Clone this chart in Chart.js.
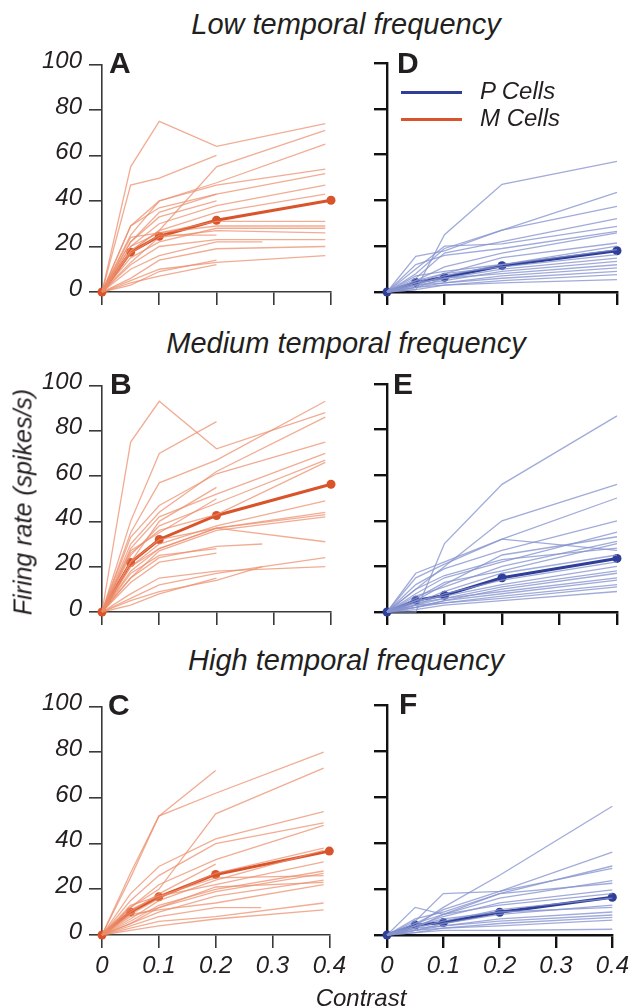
<!DOCTYPE html>
<html><head><meta charset="utf-8">
<script src="https://cdn.jsdelivr.net/npm/chart.js@4.4.1/dist/chart.umd.min.js"></script>
<style>
body{margin:0;background:#fff;width:633px;height:1007px;position:relative;overflow:hidden;font-family:"Liberation Sans",Arial,Helvetica,sans-serif;color:#231f20}
canvas{position:absolute}
.t{position:absolute;white-space:nowrap;line-height:1}
.title{font-style:italic;font-size:29px;left:0;width:692px;text-align:center}
.let{font-weight:bold;font-size:30px;color:#231f20}
.leg{font-style:italic;font-size:24px}
.ln{position:absolute;height:3px;width:61px}
</style>
</head><body>
<canvas id="cA" width="350" height="274" style="left:0;top:43px"></canvas>
<canvas id="cD" width="283" height="274" style="left:350px;top:43px"></canvas>
<canvas id="cB" width="350" height="273" style="left:0;top:364px"></canvas>
<canvas id="cE" width="283" height="273" style="left:350px;top:364px"></canvas>
<canvas id="cC" width="350" height="310" style="left:0;top:685px"></canvas>
<canvas id="cF" width="283" height="310" style="left:350px;top:685px"></canvas>

<div class="t title" style="top:10px">Low temporal frequency</div>
<div class="t title" style="top:329px">Medium temporal frequency</div>
<div class="t title" style="top:646px">High temporal frequency</div>

<div class="t let" style="left:109px;top:48px">A</div>
<div class="t let" style="left:397px;top:48px">D</div>
<div class="t let" style="left:110px;top:369px">B</div>
<div class="t let" style="left:393px;top:369px">E</div>
<div class="t let" style="left:108px;top:690px">C</div>
<div class="t let" style="left:399px;top:689px">F</div>

<div class="ln" style="left:401px;top:91px;background:#2f3f98"></div>
<div class="ln" style="left:401px;top:118px;background:#d9542b"></div>
<div class="t leg" style="left:480px;top:79px">P Cells</div>
<div class="t leg" style="left:480px;top:106px">M Cells</div>

<div class="t" style="left:23px;top:502px;font-style:italic;font-size:25px;transform:translate(-50%,-50%) rotate(-90deg)">Firing rate (spikes/s)</div>
<div class="t" style="left:361px;top:986px;font-style:italic;font-size:24px;transform:translateX(-50%)">Contrast</div>

<script>
// ---- data ----
const CELL_CONTRAST_M = [0, 0.05, 0.1, 0.2, 0.28, 0.39];
const CELL_CONTRAST_P = [0, 0.05, 0.1, 0.2, 0.4];
const MEAN_CONTRAST = [0, 0.05, 0.1, 0.2, 0.4];
const X_TICKS = [0, 0.1, 0.2, 0.3, 0.4];
const Y_TICKS = [0, 20, 40, 60, 80, 100];

// Low temporal frequency, M cells (panel A)
const lowM = [
  [0,55,75,64,null,74],[0,47,50,60,null,null],[0,18,27,55,null,71],[0,25,40,48,null,65],
  [0,29,40,47,null,54],[0,22,35,43,null,52],[0,20,30,38,null,47],[0,18,27,35,null,43],
  [0,29,37,43,null,null],[0,22,33,40,null,null],[0,20,26,31,null,31],[0,24,26,29,null,29],
  [0,15,22,28,null,28],[0,13,24,27,null,26],[0,17,25,25,null,null],[0,12,20,23,null,23],
  [0,10,16,22,22,null],[0,6,14,19,null,20],[0,5,10,13,null,16],[0,4,7,12,null,null],
  [0,3,9,14,null,null]
];
const lowMMean = [0,17.5,24.5,31.5,40.3];

// Low temporal frequency, P cells (panel D)
const lowP = [
  [0,1,25,47,57],[0,8,19,27,43.5],[0,15.6,18,27,37.4],[0,6,17,22,32],[0,10,20,21,28.7],
  [0,12,16,19,26.5],[0,5,11,17,25.8],[0,4,8,15,21.4],[0,7,9,12,20],[0,3,7,12,18.5],
  [0,5,8,11,16.3],[0,4,6,10,14.8],[0,3,5,9,13.4],[0,2,6,8,11.9],[0,3,4,7,10.5],
  [0,2,4,6,9],[0,2,3,5,7.6],[0,1,3,4,5.4]
];
const lowPMean = [0,4.2,6.4,11.5,18];

// Medium temporal frequency, M cells (panel B)
const medM = [
  [0,75,93,72,null,88],[0,40,70,84,null,null],[0,35,57,67,null,93],[0,30,44,62,null,86],
  [0,33,47,61,null,75],[0,28,42,52,null,70],[0,25,38,48,null,67],[0,22,40,55,null,null],
  [0,27,35,50,null,null],[0,20,30,38,null,49],[0,18,28,37,null,44],[0,22,32,37,null,43],
  [0,15,27,36,null,42],[0,20,28,37,null,31],[0,17,25,28,null,null],[0,13,22,26,null,null],
  [0,15,24,29,30,null],[0,6,12,17,null,24],[0,5,9,14,20,null],[0,8,15,18,null,20],
  [0,3,8,15,null,null],[0,26,36,43,null,66]
];
const medMMean = [0,21.8,32,42.6,56.4];

// Medium temporal frequency, P cells (panel E)
const medP = [
  [0,0,30,56,86],[0,10,20,40,56],[0,17,22,32,50],[0,15,21,32,27],[0,12,19,27,40],
  [0,8,15,22,35],[0,5,12,25,33],[0,7,11,20,31],[0,6,13,18,30],[0,4,9,17,25],
  [0,3,8,14,22],[0,5,7,12,20],[0,3,6,11,18],[0,2,5,10,17],[0,4,6,9,15],
  [0,2,5,8,14],[0,3,4,7,12],[0,2,4,6,11],[0,1,3,5,9],[0,10,16,23,28]
];
const medPMean = [0,5.1,7.3,15,23.5];

// High temporal frequency, M cells (panel C)
const highM = [
  [0,27,52,72,null,null],[0,25,52,62,null,80],[0,12,20,53,null,73],[0,18,30,42,null,54],
  [0,15,26,40,null,49],[0,12,22,33,null,48],[0,10,18,31,null,null],[0,9,16,27,null,38],
  [0,7,15,24,null,37],[0,11,17,22,null,32],[0,6,13,20,null,28],[0,8,12,19,null,27],
  [0,5,10,17,null,24],[0,9,11,14,null,22],[0,4,8,12,12,null],[0,3,6,8,null,14],
  [0,2,4,7,null,11],[0,13,17,25,null,26],[0,5,12,21,null,23]
];
const highMMean = [0,10.1,16.7,26.5,36.7];

// High temporal frequency, P cells (panel F)
const highP = [
  [0,4,12,26,56],[0,6,18,19,36],[0,12,9,18,30],[0,5,11,19,29],[0,3,9,16,23.6],
  [0,7,10,18,22.5],[0,4,8,14,19.6],[0,5,9,13,18],[0,3,6,11,16],[0,2,5,9,13],
  [0,3,4,7,10],[0,2,4,6,8.7],[0,1,3,5,7.7],[0,2,3,4,6.5],[0,1,2,2,2.5],[0,4,7,10,12]
];
const highPMean = [0,4.3,5.4,9.9,16.4];

// ---- styles ----
const ORANGE_LIGHT = 'rgba(236,140,105,0.72)';
const ORANGE_DARK = '#d9542b';
const BLUE_LIGHT = 'rgba(135,147,206,0.78)';
const BLUE_DARK = '#2f3f98';
const FONT = {family: '"Liberation Sans", Arial, Helvetica, sans-serif', size: 24, style: 'italic'};

function pts(xs, ys) {
  return xs.map((x, i) => ({x: x, y: ys[i]})).filter(p => p.y !== null && p.y !== undefined);
}

function panel(id, cells, cellX, mean, light, dark, o) {
  const datasets = cells.map(c => ({
    data: pts(cellX, c), borderColor: light, borderWidth: 1.3,
    pointRadius: 0, clip: false, tension: 0
  }));
  datasets.push({
    data: pts(MEAN_CONTRAST, mean), borderColor: dark, backgroundColor: dark,
    borderWidth: 3, pointRadius: 4.5, pointBackgroundColor: dark, pointBorderWidth: 0,
    clip: false, tension: 0
  });
  const axisColor = o.axisColor, axisW = o.axisW;
  new Chart(document.getElementById(id), {
    type: 'line',
    data: {datasets},
    options: {
      responsive: false, animation: false, devicePixelRatio: 1,
      layout: {padding: {top: 20, right: o.right, left: 0, bottom: 0}},
      plugins: {legend: {display: false}, tooltip: {enabled: false}},
      scales: {
        x: {
          type: 'linear', min: 0, max: 0.4,
          afterBuildTicks: s => { s.ticks = X_TICKS.map(v => ({value: v})); },
          ticks: {display: o.xLabels, autoSkip: false, maxRotation: 0, padding: 4,
                  color: '#231f20', font: FONT,
                  callback: v => v === 0 ? '0' : Number(v).toFixed(1)},
          grid: {drawOnChartArea: false, drawTicks: true, tickLength: 13, color: axisColor, lineWidth: axisW},
          border: {display: true, color: axisColor, width: axisW},
          afterFit: s => { s.height = o.xH; }
        },
        y: {
          min: 0, max: 100,
          afterBuildTicks: s => { s.ticks = Y_TICKS.map(v => ({value: v})); },
          ticks: {display: o.yLabels, padding: 7, labelOffset: -3, color: '#231f20', font: FONT},
          grid: {drawOnChartArea: false, drawTicks: true, tickLength: 13, color: axisColor, lineWidth: axisW},
          border: {display: true, color: axisColor, width: axisW},
          afterFit: s => { s.width = o.yW; }
        }
      }
    }
  });
}

const LEFT = {right: 19, yW: 102, yLabels: true, axisColor: '#3a3a3a', axisW: 1.6};
const RIGHT = {right: 16, yW: 37, yLabels: false, axisColor: '#111', axisW: 2.4};

panel('cA', lowM, CELL_CONTRAST_M, lowMMean, ORANGE_LIGHT, ORANGE_DARK, {...LEFT, xH: 25, xLabels: false});
panel('cD', lowP, CELL_CONTRAST_P, lowPMean, BLUE_LIGHT, BLUE_DARK, {...RIGHT, xH: 25, xLabels: false});
panel('cB', medM, CELL_CONTRAST_M, medMMean, ORANGE_LIGHT, ORANGE_DARK, {...LEFT, xH: 25, xLabels: false});
panel('cE', medP, CELL_CONTRAST_P, medPMean, BLUE_LIGHT, BLUE_DARK, {...RIGHT, xH: 25, xLabels: false});
panel('cC', highM, CELL_CONTRAST_M, highMMean, ORANGE_LIGHT, ORANGE_DARK, {...LEFT, xH: 60, xLabels: true});
panel('cF', highP, CELL_CONTRAST_P, highPMean, BLUE_LIGHT, BLUE_DARK, {...RIGHT, xH: 60, xLabels: true});
</script>
</body></html>
